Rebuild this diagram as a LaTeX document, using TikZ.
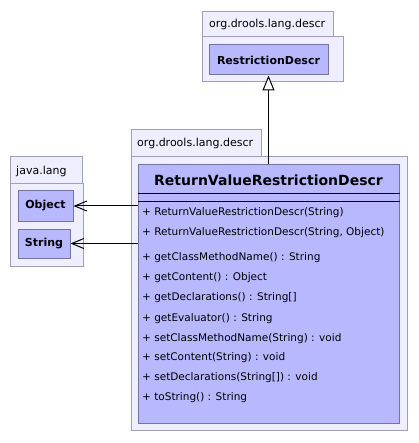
\documentclass[tikz,border=0pt]{standalone}
\usepackage{fontspec}
\setmainfont{DejaVu Sans}
\usetikzlibrary{arrows.meta,positioning}

\definecolor{pkgfill}{HTML}{EEEEFF}
\definecolor{pkgline}{HTML}{A0A0B4}
\definecolor{clsfill}{HTML}{B8B8FF}
\definecolor{clsline}{HTML}{7474A4}

\tikzset{
  pkg/.style={draw=pkgline,fill=pkgfill,line width=1pt},
  pkglabel/.style={anchor=west,inner sep=0pt,font=\fontsize{11}{13}\selectfont},
  cls/.style={draw=clsline,fill=clsfill,line width=1pt,inner sep=0pt,
    font=\bfseries\fontsize{11}{13}\selectfont},
  member/.style={anchor=west,inner sep=0pt,text height=7.5pt,text depth=2pt,
    font=\fontsize{10.5}{12}\selectfont},
  uses/.style={-{Straight Barb[length=12pt,width=10pt,line width=1pt]},line width=1pt},
  extends/.style={-{Triangle[length=15pt,width=12pt,fill=white,line width=1pt]},line width=1pt}
}

\begin{document}
\begin{tikzpicture}[x=1pt,y=-1pt]
  \useasboundingbox (0,0) rectangle (418,443);

  %package org.drools.lang.descr (top)
  \draw[pkg] (202,12) rectangle (333,37);
  \draw[pkg] (202,37) rectangle (343,82);
  \node[pkglabel] (toplbl) at (209,24) {org.drools.lang.descr};
  \node[cls,minimum width=119pt,minimum height=30pt] (rd) at (268.5,60) {RestrictionDescr};

  %package java.lang
  \draw[pkg] (10,157) rectangle (82,184);
  \draw[pkg] (10,184) rectangle (83,266);
  \node[pkglabel] (javalbl) at (16,171) {java.lang};
  \node[cls,minimum width=55pt,minimum height=30pt] (obj) at (45.5,206) {Object};
  \node[cls,minimum width=52pt,minimum height=29pt] (str) at (44,243.5) {String};

  %package org.drools.lang.descr (main)
  \draw[pkg] (131,130) rectangle (261,157);
  \draw[pkg] (131,157) rectangle (407,430);
  \node[pkglabel] (mainlbl) at (137,143) {org.drools.lang.descr};

  %class ReturnValueRestrictionDescr
  \node[cls,minimum width=261pt,minimum height=258pt] (main) at (268.5,294) {};
  \node[inner sep=0pt,font=\bfseries\fontsize{14}{16}\selectfont] (title) at (268.5,180) {ReturnValueRestrictionDescr};
  \draw[line width=1pt] (main.west |- 0,194) -- (main.east |- 0,194);
  \draw[line width=1pt] (main.west |- 0,202) -- (main.east |- 0,202);

  %constructors
  \node[member] (c1) at (142,213) {+ ReturnValueRestrictionDescr(String)};
  \node[member] (c2) at (142,233) {+ ReturnValueRestrictionDescr(String, Object)};

  %methods
  \node[member] (m1) at (142,258) {+ getClassMethodName() : String};
  \node[member] (m2) at (142,278) {+ getContent() : Object};
  \node[member] (m3) at (142,298) {+ getDeclarations() : String[]};
  \node[member] (m4) at (142,319) {+ getEvaluator() : String};
  \node[member] (m5) at (142,339) {+ setClassMethodName(String) : void};
  \node[member] (m6) at (142,358) {+ setContent(String) : void};
  \node[member] (m7) at (142,378) {+ setDeclarations(String[]) : void};
  \node[member] (m8) at (142,398) {+ toString() : String};

  %relations
  \draw[extends] (main.north -| rd.south) -- (rd.south);
  \draw[uses] (main.west |- obj.east) -- (obj.east);
  \draw[uses] (main.west |- str.east) -- (str.east);
\end{tikzpicture}
\end{document}
